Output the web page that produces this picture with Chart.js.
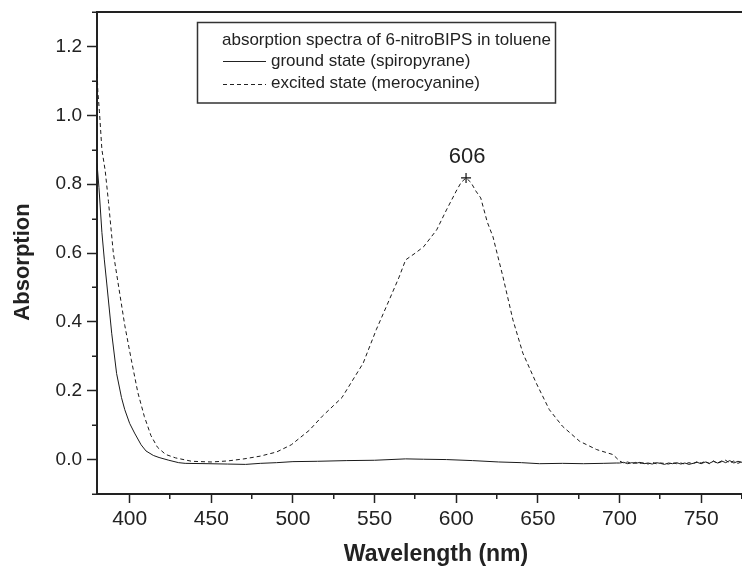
<!DOCTYPE html>
<html>
<head>
<meta charset="utf-8">
<script src="https://cdn.jsdelivr.net/npm/chart.js@4"></script>
<style>
  body { margin: 0; background: #fff; }
  #wrap { width: 742px; height: 568px; }
</style>
</head>
<body>
<div id="wrap"><canvas id="myChart" width="742" height="568"></canvas></div>
<script>
// wavelength (nm) / absorption
var groundX = [380, 381.2, 383, 384.5, 386, 389, 392, 395, 397, 400, 403, 407, 410, 414.5, 418, 424, 430, 434,
  448, 460, 471, 480, 490, 500, 515, 533, 550, 569, 580, 594, 610, 626, 640, 651, 665, 678, 690, 698,
  700, 702.5, 705, 707.5, 710, 712.5, 715, 717.5, 720, 722.5, 725, 727.5, 730, 732.5, 735, 737.5, 740,
  742.5, 745, 747.5, 750, 752.5, 755, 757.5, 760, 762.5, 765, 767.5, 770, 772.5, 775];
var groundY = [0.86, 0.79, 0.66, 0.58, 0.51, 0.367, 0.25, 0.18, 0.145, 0.105, 0.077, 0.043, 0.025, 0.012, 0.006, -0.002, -0.009, -0.011,
  -0.012, -0.013, -0.014, -0.011, -0.009, -0.006, -0.005, -0.003, -0.002, 0.002, 0.001, 0.000, -0.003, -0.007, -0.009, -0.012, -0.011, -0.012, -0.011, -0.010,
  -0.010, -0.008, -0.012, -0.009, -0.011, -0.008, -0.012, -0.010, -0.013, -0.009, -0.011, -0.014, -0.010, -0.012, -0.009, -0.013, -0.010,
  -0.014, -0.011, -0.008, -0.012, -0.007, -0.011, -0.005, -0.010, -0.004, -0.009, -0.003, -0.010, -0.005, -0.008];

var excitedX = [380, 380.5, 381.5, 383, 385, 387, 390, 393, 397, 401, 405, 409, 413, 417, 422, 428, 438, 450, 460, 470,
  480, 490, 499, 510, 518, 530, 543, 551, 559, 565, 569, 575, 580, 588, 594, 600, 603, 606, 609, 612, 615, 619,
  622.5, 628.6, 634.7, 640.8, 649, 657, 665, 675.6, 686, 696,
  700, 702.5, 705, 707.5, 710, 712.5, 715, 717.5, 720, 722.5, 725, 727.5, 730, 732.5, 735, 737.5, 740,
  742.5, 745, 747.5, 750, 752.5, 755, 757.5, 760, 762.5, 765, 767.5, 770, 772.5, 775];
var excitedY = [1.14, 1.07, 1.01, 0.90, 0.84, 0.75, 0.60, 0.51, 0.39, 0.29, 0.195, 0.125, 0.07, 0.036, 0.015, 0.005, -0.005, -0.007, -0.004, 0.002,
  0.01, 0.022, 0.043, 0.085, 0.126, 0.18, 0.28, 0.377, 0.464, 0.53, 0.58, 0.60, 0.618, 0.667, 0.725, 0.78, 0.805, 0.818, 0.805, 0.78, 0.76, 0.69,
  0.647, 0.531, 0.406, 0.309, 0.222, 0.145, 0.097, 0.053, 0.029, 0.0145,
  -0.004, -0.010, -0.007, -0.012, -0.008, -0.011, -0.009, -0.013, -0.008, -0.012, -0.010, -0.011, -0.013, -0.009, -0.012, -0.010, -0.013,
  -0.009, -0.012, -0.006, -0.010, -0.005, -0.012, -0.004, -0.011, -0.006, -0.002, -0.010, -0.004, -0.011, -0.006];

var peakX = [606];
var peakY = [0.818];
var peakLabel = '606';

var xMajor = [400, 450, 500, 550, 600, 650, 700, 750];
var xMinor = [425, 475, 525, 575, 625, 675, 725, 775];
var yMajor = [0.0, 0.2, 0.4, 0.6, 0.8, 1.0, 1.2];
var yMinor = [-0.1, 0.1, 0.3, 0.5, 0.7, 0.9, 1.1, 1.3];

var legendTitle = 'absorption spectra of 6-nitroBIPS in toluene';
var seriesNames = ['ground state (spiropyrane)', 'excited state (merocyanine)'];
var xTitle = 'Wavelength (nm)';
var yTitle = 'Absorption';

var FONT = "'Liberation Sans', Arial, Helvetica, sans-serif";
var INK = '#222';

function pts(xs, ys) {
  return xs.map(function (x, i) { return { x: x, y: ys[i] }; });
}

// frame top line, minor ticks, axis titles, peak label and the boxed legend
var decor = {
  id: 'decor',
  afterDraw: function (chart) {
    var ctx = chart.ctx, a = chart.chartArea;
    var xs = chart.scales.x, ys = chart.scales.y;
    ctx.save();
    ctx.strokeStyle = INK;
    ctx.lineWidth = 2;
    ctx.beginPath();
    ctx.moveTo(a.left - 1, a.top);
    ctx.lineTo(a.right, a.top);
    ctx.stroke();

    ctx.lineWidth = 1.5;
    xMinor.forEach(function (v) {
      var px = Math.round(xs.getPixelForValue(v)) - 0.25;
      ctx.beginPath();
      ctx.moveTo(px, a.bottom);
      ctx.lineTo(px, a.bottom + 5);
      ctx.stroke();
    });
    yMinor.forEach(function (v) {
      var py = Math.round(ys.getPixelForValue(v)) + 0.25;
      ctx.beginPath();
      ctx.moveTo(a.left, py);
      ctx.lineTo(a.left - 5, py);
      ctx.stroke();
    });

    ctx.fillStyle = INK;
    ctx.font = 'bold 23px ' + FONT;
    ctx.textAlign = 'center';
    ctx.textBaseline = 'alphabetic';
    ctx.fillText(xTitle, 436, 561);

    ctx.save();
    ctx.translate(29, 262);
    ctx.rotate(-Math.PI / 2);
    ctx.font = 'bold 22px ' + FONT;
    ctx.fillText(yTitle, 0, 0);
    ctx.restore();

    // peak annotation
    ctx.font = '22px ' + FONT;
    var px = xs.getPixelForValue(peakX[0]), py = ys.getPixelForValue(peakY[0]);
    ctx.fillText(peakLabel, px + 1, py - 15);

    // legend box
    ctx.lineWidth = 1.5;
    ctx.strokeStyle = '#333';
    ctx.strokeRect(197.5, 22.5, 358, 80.5);
    ctx.textAlign = 'left';
    ctx.font = '17px ' + FONT;
    ctx.fillText(legendTitle, 222, 45);
    ctx.fillText(seriesNames[0], 271, 66);
    ctx.fillText(seriesNames[1], 271, 88);
    ctx.lineWidth = 1;
    ctx.strokeStyle = INK;
    ctx.beginPath();
    ctx.moveTo(223, 61.5);
    ctx.lineTo(266, 61.5);
    ctx.stroke();
    ctx.setLineDash([4, 3]);
    ctx.beginPath();
    ctx.moveTo(223, 84.5);
    ctx.lineTo(266, 84.5);
    ctx.stroke();
    ctx.restore();
  }
};

var ctx = document.getElementById('myChart').getContext('2d');
var chart = new Chart(ctx, {
  type: 'line',
  data: {
    datasets: [
      {
        label: seriesNames[0],
        data: pts(groundX, groundY),
        borderColor: '#1a1a1a',
        borderWidth: 1,
        pointRadius: 0,
        tension: 0
      },
      {
        label: seriesNames[1],
        data: pts(excitedX, excitedY),
        borderColor: '#1a1a1a',
        borderWidth: 1,
        borderDash: [4, 3],
        pointRadius: 0,
        tension: 0
      },
      {
        label: 'peak',
        data: pts(peakX, peakY),
        showLine: false,
        pointStyle: 'cross',
        pointRadius: 5,
        borderColor: '#111',
        borderWidth: 1.2
      }
    ]
  },
  options: {
    responsive: false,
    animation: false,
    layout: { autoPadding: false, padding: { top: 12, right: 0, left: 0, bottom: 0 } },
    plugins: {
      legend: { display: false },
      tooltip: { enabled: false }
    },
    scales: {
      x: {
        type: 'linear',
        min: 380,
        max: 775,
        afterBuildTicks: function (s) {
          s.ticks = xMajor.map(function (v) { return { value: v }; });
        },
        afterFit: function (s) {
          s.height = 74;
          s.paddingLeft = 0;
          s.paddingRight = 0;
        },
        ticks: {
          color: INK,
          font: { family: FONT, size: 21 },
          padding: 4,
          maxRotation: 0,
          callback: function (v) { return String(v); }
        },
        grid: {
          drawOnChartArea: false,
          drawTicks: true,
          tickLength: 9,
          tickColor: INK,
          tickWidth: 1.5
        },
        border: { display: true, color: INK, width: 2 }
      },
      y: {
        type: 'linear',
        min: -0.1,
        max: 1.3,
        afterBuildTicks: function (s) {
          s.ticks = yMajor.map(function (v) { return { value: v }; });
        },
        afterFit: function (s) {
          s.width = 97;
          s.paddingTop = 0;
          s.paddingBottom = 0;
        },
        ticks: {
          color: INK,
          font: { family: FONT, size: 19 },
          padding: 5,
          callback: function (v) { return Number(v).toFixed(1); }
        },
        grid: {
          drawOnChartArea: false,
          drawTicks: true,
          tickLength: 10,
          tickColor: INK,
          tickWidth: 1.5
        },
        border: { display: true, color: INK, width: 2 }
      }
    }
  },
  plugins: [decor]
});
</script>
</body>
</html>
